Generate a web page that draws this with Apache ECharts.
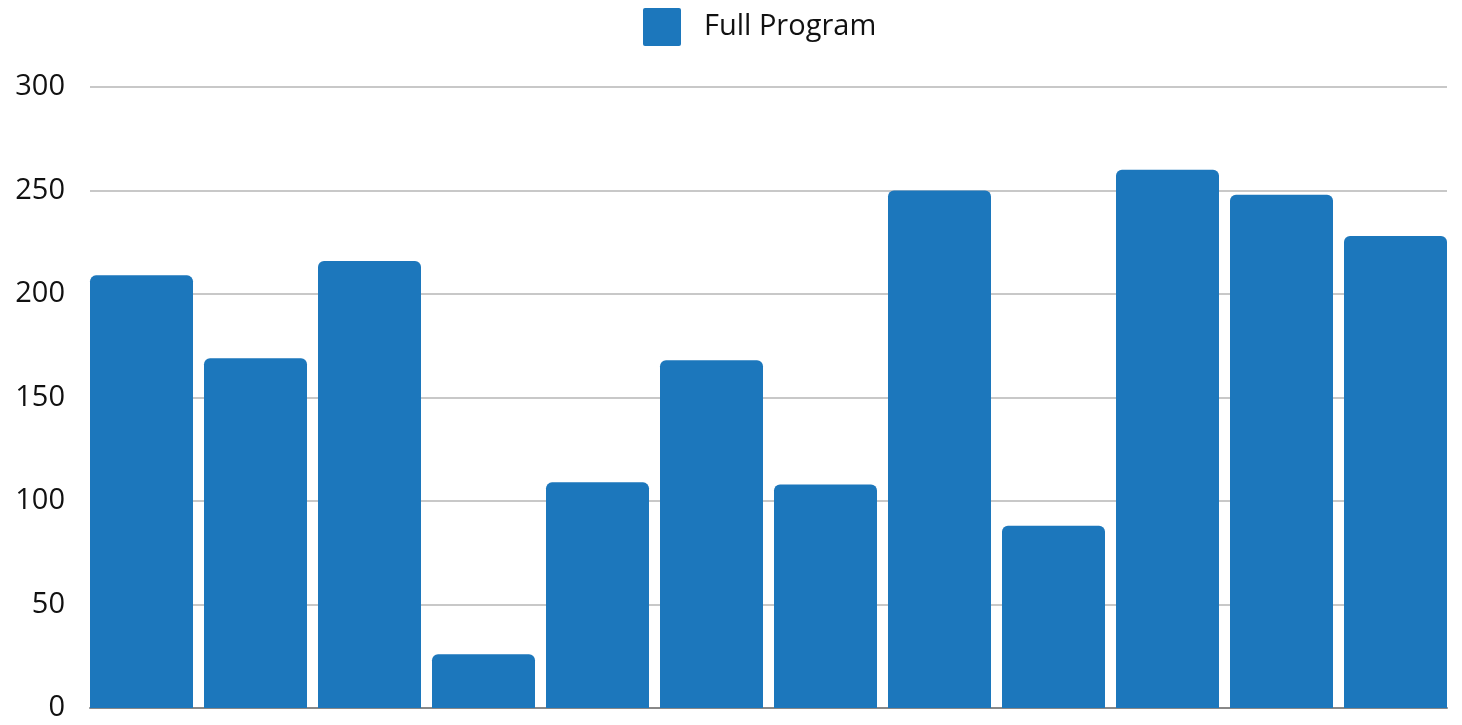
<!DOCTYPE html>
<html>
<head>
<meta charset="utf-8">
<script src="https://cdn.jsdelivr.net/npm/echarts@6/dist/echarts.min.js"></script>
<style>
html,body{margin:0;padding:0;background:#fff;}
#chart{width:1462px;height:725px;}
</style>
</head>
<body>
<div id="chart"></div>
<script>
const categories = ['1','2','3','4','5','6','7','8','9','10','11','12'];
const seriesName = 'Full Program';
const values = [209, 169, 216, 26, 109, 168, 108, 250, 88, 260, 248, 228];
const yTicks = [0, 50, 100, 150, 200, 250, 300];

const FONT = 'Open Sans';
const chart = echarts.init(document.getElementById('chart'));
chart.setOption({
  animation: false,
  textStyle: { fontFamily: FONT },
  legend: {
    top: 3,
    left: 638,
    itemWidth: 38,
    itemHeight: 38,
    data: [{ name: seriesName, icon: 'path://M2,0H36Q38,0 38,2V36Q38,38 36,38H2Q0,38 0,36V2Q0,0 2,0Z' }],
    textStyle: { fontSize: 29, color: '#111', fontFamily: FONT, padding: [0, 0, 0, 18] }
  },
  grid: [
    { left: 90, right: 15, top: 87, bottom: 17, containLabel: false },
    { left: 84.5, right: 9.5, top: 87, bottom: 17, containLabel: false }
  ],
  xAxis: [
    {
      type: 'category', gridIndex: 0, data: categories,
      axisLine: { show: true, lineStyle: { color: '#888', width: 2 } },
      axisTick: { show: false }, axisLabel: { show: false }
    },
    {
      type: 'category', gridIndex: 1, data: categories,
      axisLine: { show: false }, axisTick: { show: false }, axisLabel: { show: false }
    }
  ],
  yAxis: [
    {
      type: 'value', gridIndex: 0,
      min: yTicks[0], max: yTicks[yTicks.length - 1], interval: 50,
      axisLine: { show: false }, axisTick: { show: false },
      axisLabel: { fontSize: 29, color: '#111', margin: 25, fontFamily: FONT },
      splitLine: { lineStyle: { color: '#c8c8c8', width: 2 } }
    },
    {
      type: 'value', gridIndex: 1,
      min: yTicks[0], max: yTicks[yTicks.length - 1], interval: 50,
      axisLine: { show: false }, axisTick: { show: false },
      axisLabel: { show: false }, splitLine: { show: false }
    }
  ],
  series: [{
    name: seriesName,
    type: 'bar',
    xAxisIndex: 1, yAxisIndex: 1,
    data: values,
    barCategoryGap: '9.65%',
    itemStyle: { color: '#1c77bc', borderRadius: [6, 6, 0, 0] }
  }]
});
</script>
</body>
</html>
